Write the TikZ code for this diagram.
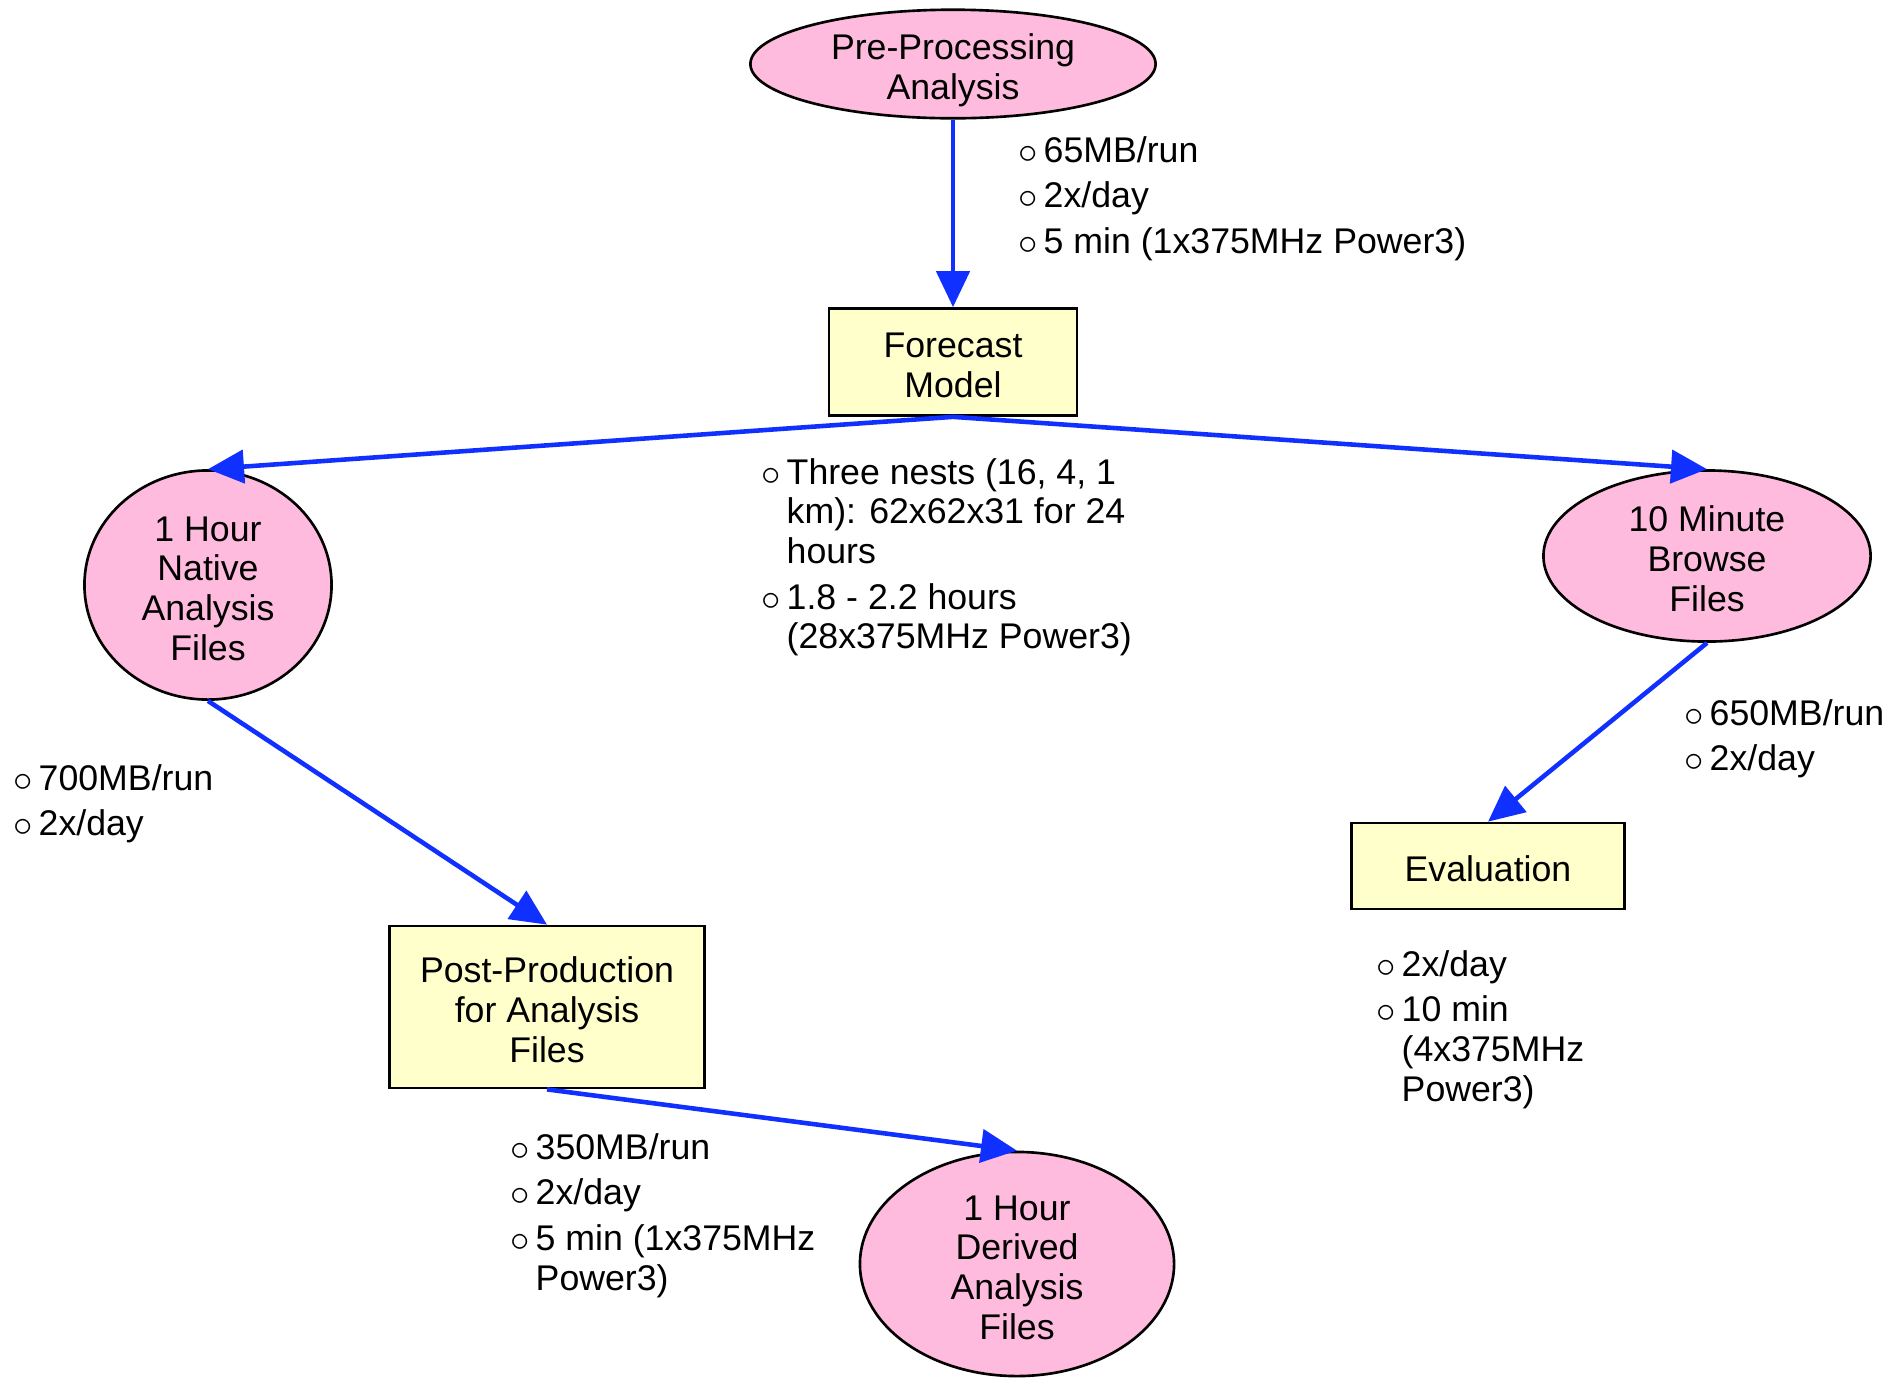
\documentclass[tikz,border=0pt]{standalone}
\usepackage{fontspec}
\setmainfont{Liberation Sans}
\usetikzlibrary{arrows.meta,shapes.geometric}

\definecolor{datapink}{RGB}{255,187,221}
\definecolor{procyellow}{RGB}{255,255,204}
\definecolor{flowblue}{RGB}{16,48,255}

% hollow bullet for the run notes
\newcommand{\opt}{\makebox[0.7em][l]{\raisebox{-0.3pt}{\scalebox{1.1}{$\circ$}}}}
\newcommand{\notefont}{\fontsize{10.15}{11.3}\selectfont}
% centred node text, set a little low
\newcommand{\ntext}[1]{\raisebox{-2.2pt}[\height][\depth]{\begin{tabular}{@{}c@{}}#1\end{tabular}}}

\begin{document}
\begin{tikzpicture}[
  x=0.01cm,y=-0.01cm,
  data/.style={ellipse,draw,fill=datapink,line width=0.75pt,inner xsep=0pt,inner ysep=-1pt,
               font=\notefont},
  proc/.style={rectangle,draw,fill=procyellow,line width=0.75pt,inner sep=0pt,
               font=\notefont},
  arr/.style={-{Triangle[length=0.36cm,width=0.33cm]},flowblue,line width=1.3pt},
  note/.style={anchor=base west,inner sep=0pt,font=\notefont}]

  \useasboundingbox (0,0) rectangle (1891,1378);

  \node[data,minimum width=4.05cm,minimum height=1.085cm] (pre)     at (953,64)    {\ntext{Pre-Processing\\Analysis}};
  \node[proc,minimum width=2.48cm,minimum height=1.07cm]  (fcst)    at (953,362)   {\ntext{Forecast\\Model}};
  \node[data,minimum width=2.47cm,minimum height=2.29cm]  (native)  at (208,585)   {\ntext{1 Hour\\Native\\Analysis\\Files}};
  \node[data,minimum width=3.27cm,minimum height=1.71cm]  (browse)  at (1707,556)  {\ntext{10 Minute\\Browse\\Files}};
  \node[proc,minimum width=3.15cm,minimum height=1.62cm]  (post)    at (547,1007)  {\ntext{Post-Production\\for Analysis\\Files}};
  \node[proc,minimum width=2.73cm,minimum height=0.86cm]  (eval)    at (1488,866)  {\ntext{Evaluation}};
  \node[data,minimum width=3.14cm,minimum height=2.24cm]  (derived) at (1017,1264) {\ntext{1 Hour\\Derived\\Analysis\\Files}};

  % data flow
  \draw[arr] (pre.south)    -- (fcst.north);
  \draw[arr] (fcst.south)   -- (native.north);
  \draw[arr] (fcst.south)   -- (browse.north);
  \draw[arr] (native.south) -- (post.north);
  \draw[arr] (browse.south) -- (eval.north);
  \draw[arr] (post.south)   -- (derived.north);

  % sizes, rates and run times
  \node[note] (preNote) at (1018,162) {\begin{tabular}[t]{@{}l@{}l@{}}
    \opt & 65MB/run\\[1.7pt]
    \opt & 2x/day\\[1.7pt]
    \opt & 5 min (1x375MHz Power3)
  \end{tabular}};
  \node[note] (fcstNote) at (761,484) {\begin{tabular}[t]{@{}l@{}l@{}}
    \opt & Three nests (16, 4, 1\\
         & km): 62x62x31 for 24\\
         & hours\\[1.7pt]
    \opt & 1.8 - 2.2 hours\\
         & (28x375MHz Power3)
  \end{tabular}};
  \node[note] (nativeNote) at (13,790) {\begin{tabular}[t]{@{}l@{}l@{}}
    \opt & 700MB/run\\[1.7pt]
    \opt & 2x/day
  \end{tabular}};
  \node[note] (browseNote) at (1684,725) {\begin{tabular}[t]{@{}l@{}l@{}}
    \opt & 650MB/run\\[1.7pt]
    \opt & 2x/day
  \end{tabular}};
  \node[note] (evalNote) at (1376,976) {\begin{tabular}[t]{@{}l@{}l@{}}
    \opt & 2x/day\\[1.7pt]
    \opt & 10 min\\
         & (4x375MHz\\
         & Power3)
  \end{tabular}};
  \node[note] (postNote) at (510,1159) {\begin{tabular}[t]{@{}l@{}l@{}}
    \opt & 350MB/run\\[1.7pt]
    \opt & 2x/day\\[1.7pt]
    \opt & 5 min (1x375MHz\\
         & Power3)
  \end{tabular}};
\end{tikzpicture}
\end{document}
